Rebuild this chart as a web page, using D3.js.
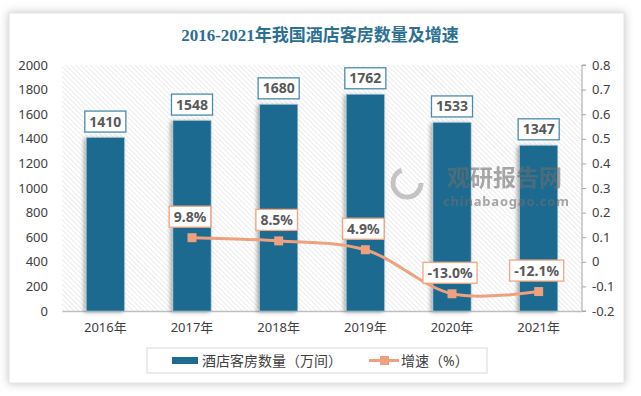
<!DOCTYPE html>
<html>
<head>
<meta charset="utf-8">
<script src="https://cdn.jsdelivr.net/npm/d3@7"></script>
<style>
  html, body { margin: 0; padding: 0; background: #fff; }
  svg { display: block; }
</style>
</head>
<body>
<div id="chart"></div>
<script>
// chart data
const years = ['2016年', '2017年', '2018年', '2019年', '2020年', '2021年'];
const rooms = [1410, 1548, 1680, 1762, 1533, 1347];
const growthYears = ['2017年', '2018年', '2019年', '2020年', '2021年'];
const growth = [9.8, 8.5, 4.9, -13.0, -12.1];
const leftTicks = [0, 200, 400, 600, 800, 1000, 1200, 1400, 1600, 1800, 2000];
const rightTicks = [-0.2, -0.1, 0, 0.1, 0.2, 0.3, 0.4, 0.5, 0.6, 0.7, 0.8];

const W = 641, H = 396;
const plot = { left: 62, right: 582, top: 65, bottom: 311 };
const BAR = '#1d6b8f', LINE = '#eea07f', GREY = '#595959';
const FONT = '"Noto Sans", "Noto Sans CJK SC", sans-serif';

// plain hyphen for negatives, like the original
const fmt1 = d => (d < 0 ? '-' : '') + Math.abs(d).toFixed(1);

const svg = d3.select('#chart').append('svg')
    .attr('width', W).attr('height', H)
    .style('font-family', FONT);

const defs = svg.append('defs');

const blur = defs.append('filter').attr('id', 'cardShadow')
    .attr('x', '-10%').attr('y', '-10%').attr('width', '120%').attr('height', '120%');
blur.append('feGaussianBlur').attr('stdDeviation', 4);

const barShadow = defs.append('filter').attr('id', 'barShadow')
    .attr('x', '-40%').attr('y', '-20%').attr('width', '180%').attr('height', '140%');
barShadow.append('feDropShadow').attr('dx', -2).attr('dy', 1).attr('stdDeviation', 2)
    .attr('flood-color', '#000').attr('flood-opacity', 0.35);

const hatch = defs.append('pattern').attr('id', 'hatch')
    .attr('patternUnits', 'userSpaceOnUse').attr('width', 3.5).attr('height', 3.5)
    .attr('patternTransform', 'rotate(-45)');
hatch.append('rect').attr('width', 3.5).attr('height', 3.5).attr('fill', '#fff');
hatch.append('line').attr('x1', 0).attr('y1', 0).attr('x2', 0).attr('y2', 3.5)
    .attr('stroke', '#dcdcdc').attr('stroke-width', 1);

// card with soft shadow
svg.append('rect').attr('x', 8).attr('y', 12).attr('width', 617).attr('height', 372)
    .attr('fill', '#c8c8c8').attr('filter', 'url(#cardShadow)');
svg.append('rect').attr('x', 9).attr('y', 13).attr('width', 615).attr('height', 370)
    .attr('fill', '#fff').attr('stroke', '#e4e4e4');

// title
svg.append('text').attr('x', 320).attr('y', 41).attr('text-anchor', 'middle')
    .attr('font-family', '"Liberation Serif", "Noto Sans CJK SC", serif')
    .attr('font-weight', 'bold').attr('font-size', 17).attr('fill', '#2b6f92')
    .text('2016-2021年我国酒店客房数量及增速');

// plot area
svg.append('rect').attr('x', plot.left).attr('y', plot.top)
    .attr('width', plot.right - plot.left).attr('height', plot.bottom - plot.top)
    .attr('fill', 'url(#hatch)');

const x = d3.scaleBand().domain(years).range([plot.left, plot.right])
    .paddingInner(0.56).paddingOuter(0.28);
const yL = d3.scaleLinear().domain([0, 2000]).range([plot.bottom, plot.top]);
const yR = d3.scaleLinear().domain([-0.2, 0.8]).range([plot.bottom, plot.top]);

// left axis
const axL = svg.append('g').attr('transform', `translate(${plot.left},0)`)
    .call(d3.axisLeft(yL).tickValues(leftTicks).tickFormat(d3.format('d')).tickSize(0).tickPadding(14));
axL.select('.domain').remove();
axL.selectAll('text').attr('font-size', 13).attr('fill', '#404040').attr('font-family', FONT);

// right axis
const axR = svg.append('g').attr('transform', `translate(${plot.right},0)`)
    .call(d3.axisRight(yR).tickValues(rightTicks).tickSize(4).tickPadding(6)
        .tickFormat(d => Math.abs(d) < 1e-9 ? '0' : fmt1(d)));
axR.selectAll('.domain, line').attr('stroke', '#a6a6a6');
axR.select('.domain').attr('d', `M4,${plot.top}H0V${plot.bottom}H4`);
axR.selectAll('text').attr('font-size', 13).attr('fill', '#404040').attr('font-family', FONT);

// bottom axis
const axB = svg.append('g').attr('transform', `translate(0,${plot.bottom})`)
    .call(d3.axisBottom(x).tickSize(0).tickPadding(12));
axB.select('.domain').attr('stroke', '#bfbfbf').attr('stroke-width', 1.5);
axB.selectAll('text').attr('font-size', 13).attr('fill', '#404040').attr('font-family', FONT);

// bars
svg.append('g').selectAll('rect').data(rooms).join('rect')
    .attr('x', (d, i) => x(years[i]))
    .attr('y', d => yL(d))
    .attr('width', x.bandwidth())
    .attr('height', d => plot.bottom - yL(d))
    .attr('fill', BAR)
    .attr('stroke', '#9fc1d3').attr('stroke-width', 0.6)
    .attr('filter', 'url(#barShadow)');

// watermark (sits over the bars, semi transparent)
const wm = svg.append('g').attr('opacity', 0.6);
wm.append('circle').attr('cx', 407).attr('cy', 183).attr('r', 14)
    .attr('fill', 'none').attr('stroke', '#a0a0a0').attr('stroke-width', 5)
    .attr('stroke-dasharray', '60 28');
wm.append('text').attr('x', 447).attr('y', 186).attr('font-size', 23).attr('font-weight', 'bold')
    .attr('fill', '#6e6e6e').attr('font-family', '"Noto Sans CJK SC", sans-serif').text('观研报告网');
wm.append('text').attr('x', 443).attr('y', 206).attr('font-size', 13).attr('font-weight', 'bold')
    .attr('fill', '#6e6e6e').attr('letter-spacing', 0.8).text('chinabaogao.com');

// labelled box helper
function boxLabel(g, cx, cy, txt, border) {
    const t = g.append('text').attr('x', cx).attr('y', cy).attr('dy', '0.36em')
        .attr('text-anchor', 'middle').attr('font-size', 14).attr('font-weight', 'bold')
        .attr('fill', GREY).text(txt);
    const w = t.node().getComputedTextLength() + 9;
    g.insert('rect', () => t.node())
        .attr('x', cx - w / 2).attr('y', cy - 10.5).attr('width', w).attr('height', 21)
        .attr('fill', '#fff').attr('stroke', border).attr('stroke-width', 1.3);
}

const barLabels = svg.append('g');
rooms.forEach((d, i) => {
    boxLabel(barLabels, x(years[i]) + x.bandwidth() / 2, yL(d) - 16, d, '#4a8bad');
});

// growth line
const cx = d => x(d) + x.bandwidth() / 2;
const line = d3.line().curve(d3.curveCatmullRom.alpha(0.5))
    .x((d, i) => cx(growthYears[i])).y(d => yR(d / 100));
svg.append('path').datum(growth).attr('d', line)
    .attr('fill', 'none').attr('stroke', LINE).attr('stroke-width', 3);
svg.append('g').selectAll('rect').data(growth).join('rect')
    .attr('x', (d, i) => cx(growthYears[i]) - 4.5).attr('y', d => yR(d / 100) - 4.5)
    .attr('width', 9).attr('height', 9).attr('fill', LINE);

const growthLabels = svg.append('g');
growth.forEach((d, i) => {
    boxLabel(growthLabels, cx(growthYears[i]) - 2, yR(d / 100) - 21, fmt1(d) + '%', '#f0a684');
});

// legend
const lg = svg.append('g');
lg.append('rect').attr('x', 147).attr('y', 348).attr('width', 340).attr('height', 25)
    .attr('fill', '#fff').attr('stroke', '#d9d9d9');
lg.append('rect').attr('x', 172).attr('y', 357).attr('width', 26).attr('height', 7).attr('fill', BAR);
lg.append('text').attr('x', 202).attr('y', 361).attr('dy', '0.36em').attr('font-size', 14)
    .attr('fill', '#404040').text('酒店客房数量（万间）');
lg.append('line').attr('x1', 369).attr('x2', 399).attr('y1', 360.5).attr('y2', 360.5)
    .attr('stroke', LINE).attr('stroke-width', 3);
lg.append('rect').attr('x', 380).attr('y', 356).attr('width', 9).attr('height', 9).attr('fill', LINE);
lg.append('text').attr('x', 401).attr('y', 361).attr('dy', '0.36em').attr('font-size', 14)
    .attr('fill', '#404040').text('增速（%）');
</script>
</body>
</html>
